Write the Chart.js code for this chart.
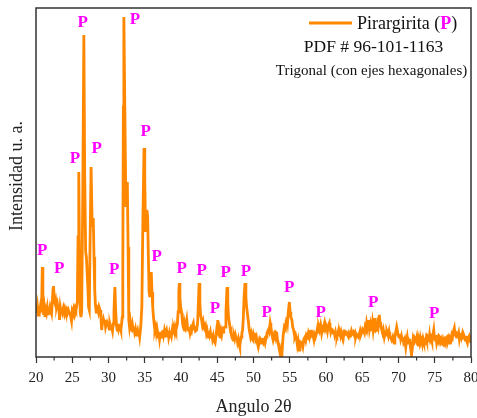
<!DOCTYPE html>
<html>
<head>
<meta charset="utf-8">
<script src="https://cdn.jsdelivr.net/npm/chart.js@4.4.1/dist/chart.umd.min.js"></script>
<style>
html,body{margin:0;padding:0;background:#fff;}
#c{display:block;}
</style>
</head>
<body>
<canvas id="c" width="477" height="418"></canvas>
<script>
// ---- data (2θ in degrees, intensity in arbitrary units) ----
const twoTheta = [
20.0,20.1,20.2,20.3,20.4,20.5,20.6,20.7,20.8,20.87,20.95,21.05,21.15,21.24,21.35,21.45,21.55,21.65,21.75,21.85,21.95,
22.05,22.15,22.25,22.35,22.42,22.5,22.6,22.7,22.76,22.85,22.95,23.05,23.15,23.25,23.35,23.45,23.55,23.65,23.77,23.9,
24.0,24.1,24.2,24.3,24.46,24.6,24.75,24.9,25.0,25.1,25.2,25.3,25.4,25.5,25.6,25.7,25.8,25.9,26.0,26.1,26.2,26.3,26.45,
26.6,26.72,26.85,26.95,27.05,27.15,27.25,27.35,27.45,27.6,27.75,27.9,28.0,28.1,28.2,28.3,28.4,28.5,28.6,28.7,28.83,28.95,
29.06,29.15,29.3,29.4,29.5,29.6,29.7,29.8,29.97,30.1,30.2,30.3,30.44,30.55,30.65,30.75,30.88,31.0,31.1,31.2,31.3,31.4,
31.5,31.6,31.7,31.8,31.9,31.97,32.05,32.12,32.25,32.4,32.5,32.6,32.7,32.8,32.9,33.0,33.1,33.2,33.3,33.4,33.5,33.6,33.7,
33.8,33.9,34.0,34.1,34.2,34.3,34.45,34.6,34.75,34.9,35.0,35.1,35.2,35.3,35.4,35.5,35.6,35.7,35.8,35.9,36.0,36.1,36.2,
36.3,36.4,36.5,36.6,36.7,36.87,36.95,37.05,37.15,37.3,37.4,37.5,37.6,37.7,37.8,37.9,38.0,38.1,38.2,38.3,38.4,38.5,38.6,
38.7,38.8,38.9,39.0,39.1,39.2,39.3,39.4,39.5,39.6,39.7,39.77,39.85,39.95,40.1,40.2,40.3,40.46,40.55,40.65,40.8,40.9,41.0,
41.1,41.24,41.35,41.45,41.55,41.7,41.8,41.9,42.0,42.16,42.3,42.4,42.5,42.6,42.7,42.85,42.95,43.05,43.15,43.3,43.4,43.5,
43.6,43.77,43.85,43.95,44.05,44.15,44.23,44.35,44.45,44.55,44.7,44.85,45.0,45.06,45.15,45.25,45.4,45.5,45.6,45.7,45.8,
45.9,46.07,46.2,46.35,46.45,46.55,46.65,46.76,46.85,46.95,47.05,47.2,47.3,47.4,47.5,47.6,47.7,47.8,47.9,48.0,48.1,48.2,
48.3,48.4,48.5,48.6,48.7,48.83,48.95,49.05,49.15,49.3,49.4,49.5,49.6,49.7,49.8,49.9,50.0,50.1,50.2,50.3,50.4,50.5,50.66,
50.8,50.9,51.0,51.1,51.2,51.3,51.4,51.5,51.6,51.75,51.85,52.04,52.15,52.3,52.4,52.55,52.7,52.85,52.95,53.05,53.2,53.3,
53.4,53.5,53.66,53.8,53.9,54.0,54.1,54.25,54.4,54.5,54.6,54.7,54.8,54.95,55.05,55.15,55.3,55.4,55.5,55.6,55.7,55.8,55.96,
56.05,56.15,56.3,56.4,56.5,56.65,56.8,56.95,57.1,57.2,57.3,57.45,57.56,57.7,57.8,57.9,58.0,58.15,58.34,58.45,58.55,58.7,
58.8,58.9,59.0,59.1,59.25,59.4,59.5,59.6,59.7,59.8,59.9,60.0,60.1,60.2,60.3,60.46,60.55,60.65,60.75,60.9,61.0,61.1,61.2,
61.3,61.4,61.5,61.6,61.7,61.8,61.9,62.0,62.1,62.2,62.3,62.4,62.5,62.6,62.7,62.85,62.95,63.1,63.2,63.35,63.5,63.6,63.77,
63.9,64.0,64.1,64.2,64.3,64.46,64.6,64.7,64.8,64.95,65.05,65.15,65.3,65.4,65.5,65.6,65.7,65.8,65.9,66.0,66.1,66.2,66.3,
66.4,66.5,66.66,66.75,66.85,67.0,67.1,67.2,67.35,67.45,67.55,67.7,67.8,67.9,68.04,68.15,68.3,68.4,68.5,68.6,68.7,68.8,
68.95,69.06,69.2,69.3,69.4,69.5,69.6,69.75,69.85,69.95,70.07,70.2,70.3,70.4,70.5,70.6,70.7,70.85,71.0,71.1,71.2,71.3,
71.45,71.55,71.65,71.8,71.9,72.0,72.1,72.2,72.3,72.4,72.5,72.6,72.7,72.8,72.9,73.0,73.1,73.2,73.3,73.4,73.5,73.66,73.8,
73.9,74.0,74.1,74.2,74.3,74.4,74.5,74.6,74.75,74.86,74.95,75.05,75.15,75.27,75.4,75.5,75.6,75.7,75.8,75.95,76.05,76.2,
76.3,76.4,76.5,76.65,76.75,76.85,77.0,77.1,77.24,77.35,77.45,77.55,77.7,77.8,77.9,78.0,78.16,78.3,78.4,78.5,78.6,78.7,
78.8,78.9,79.0,79.1,79.2,79.3,79.4,79.5,79.6,79.75,79.85,80.0
];
const intensity = [
49,44,50,42,47,45,50,46,60,90,55,42,48,40,47,44,49,42,46,45,50,
47,44,55,68,71,60,55,52,55,50,53,48,52,37,50,46,49,45,49,44,
48,45,47,43,47,44,42,36,46,44,48,45,49,47,50,55,120,185,100,45,40,45,160,
322,180,105,100,85,70,50,47,110,190,130,139,100,67,52,45,52,48,45,50,47,40,
27,33,38,35,37,30,33,35,32,28,33,30,30,26,33,45,70,45,32,27,33,28,
31,30,27,33,40,80,250,340,250,150,170,175,110,37,30,35,28,27,32,27,30,25,28,
22,25,27,22,25,20,30,50,140,209,180,125,140,147,140,100,65,60,70,85,65,50,40,
33,27,30,24,28,20,25,18,23,24,20,27,22,26,21,25,27,22,26,20,24,20,26,
22,27,24,28,25,30,27,30,33,45,65,74,60,50,44,35,30,27,33,30,37,30,27,
30,24,28,26,31,34,28,31,26,27,35,55,74,55,42,37,32,35,29,27,30,24,
27,20,26,22,25,20,24,18,21,16,14,22,32,37,28,22,20,25,22,27,25,
29,30,45,70,55,40,35,30,25,22,19,17,21,18,22,19,20,15,18,13,10,16,
20,24,27,40,60,74,60,50,44,35,28,24,20,23,18,17,22,19,24,18,20,15,10,
16,14,18,17,14,19,15,17,14,20,24,27,25,34,30,22,17,22,20,25,24,18,
14,10,4,8,0,12,22,30,28,36,40,35,45,55,45,40,37,30,28,24,20,22,17,
12,16,7,10,15,14,10,18,20,17,22,20,24,20,25,27,22,24,17,22,20,24,
28,25,30,27,32,24,28,26,31,34,29,32,30,26,31,34,29,25,28,27,24,26,22,
25,21,20,23,26,22,24,21,25,22,23,20,26,27,23,24,22,20,24,22,26,23,25,
22,24,20,23,22,20,23,26,22,25,28,27,24,30,28,34,30,35,37,28,32,26,30,
35,28,39,30,26,27,33,30,42,35,32,27,24,27,20,24,22,26,24,21,25,20,
19,17,20,16,14,20,24,30,26,22,20,23,18,21,17,20,15,18,10,16,20,14,
14,18,10,2,8,16,12,20,19,14,18,13,12,17,14,19,15,17,13,18,15,14,19,
16,21,20,15,22,17,19,16,22,27,20,17,22,14,18,16,21,20,15,18,13,12,
17,15,19,20,15,18,14,19,17,22,20,25,29,22,26,20,20,24,18,22,24,20,
23,19,22,20,17,21,16,14,19,21,17,14
];
// peak marker "P" positions (2θ, intensity)
const peakLabelX = [20.87,23.21,25.38,26.44,28.37,30.8,33.66,35.13,36.65,40.1,42.86,44.69,46.17,48.97,51.82,54.94,59.27,66.52,74.94];
const peakLabelY = [106,88,198,334,208,87,337,225,100,88,86,48,84,85,44,69,44,54,43];
// axis ticks
const xMin = 20, xMax = 80, xMajorStep = 5, xMinorStep = 2.5;

const SERIF = "'Liberation Serif','Times New Roman',serif";
const LINE_COLOR = '#ff8800';
const MAGENTA = '#ff00ff';

const points = twoTheta.map((x, i) => ({x: x, y: intensity[i]}));

const overlay = {
  id: 'overlay',
  afterDatasetsDraw(chart) {
    const ctx = chart.ctx;
    const xs = chart.scales.x, ys = chart.scales.y;
    const ca = chart.chartArea;
    ctx.save();
    // P markers
    ctx.fillStyle = MAGENTA;
    ctx.font = 'bold 17px ' + SERIF;
    ctx.textAlign = 'center';
    ctx.textBaseline = 'middle';
    for (let i = 0; i < peakLabelX.length; i++) {
      ctx.fillText('P', xs.getPixelForValue(peakLabelX[i]), ys.getPixelForValue(peakLabelY[i]));
    }
    // legend
    ctx.strokeStyle = LINE_COLOR;
    ctx.lineWidth = 2.8;
    ctx.beginPath();
    ctx.moveTo(309, 23); ctx.lineTo(352, 23);
    ctx.stroke();
    ctx.textAlign = 'left';
    ctx.font = '18px ' + SERIF;
    ctx.fillStyle = '#111';
    let tx = 357;
    const t1 = 'Pirargirita (';
    ctx.fillText(t1, tx, 24); tx += ctx.measureText(t1).width;
    ctx.font = 'bold 18px ' + SERIF;
    ctx.fillStyle = MAGENTA;
    ctx.fillText('P', tx, 24); tx += ctx.measureText('P').width;
    ctx.font = '18px ' + SERIF;
    ctx.fillStyle = '#111';
    ctx.fillText(')', tx, 24);
    ctx.textAlign = 'center';
    ctx.font = '17.5px ' + SERIF;
    ctx.fillText('PDF # 96-101-1163', 373.5, 47);
    ctx.font = '15px ' + SERIF;
    ctx.fillText('Trigonal (con ejes hexagonales)', 371.5, 71);
    // frame
    ctx.strokeStyle = '#333';
    ctx.lineWidth = 1.5;
    ctx.strokeRect(ca.left, ca.top, ca.right - ca.left, ca.bottom - ca.top);
    // minor ticks
    ctx.lineWidth = 1.2;
    ctx.beginPath();
    for (let v = xMin + xMinorStep; v < xMax; v += xMajorStep) {
      const px = xs.getPixelForValue(v);
      ctx.moveTo(px, ca.bottom); ctx.lineTo(px, ca.bottom + 3.5);
    }
    ctx.stroke();
    // y title
    ctx.translate(17, 176);
    ctx.rotate(-Math.PI / 2);
    ctx.font = '18px ' + SERIF;
    ctx.fillStyle = '#222';
    ctx.textAlign = 'center';
    ctx.textBaseline = 'middle';
    ctx.fillText('Intensidad u. a.', 0, 0);
    ctx.restore();
  }
};

new Chart(document.getElementById('c'), {
  type: 'line',
  data: {
    datasets: [{
      data: points,
      borderColor: LINE_COLOR,
      borderWidth: 2.8,
      pointRadius: 0,
      tension: 0,
      fill: false
    }]
  },
  options: {
    responsive: false,
    animation: false,
    devicePixelRatio: 1,
    layout: {padding: {top: 8, right: 6, left: 0, bottom: 0}},
    plugins: {legend: {display: false}, tooltip: {enabled: false}},
    scales: {
      x: {
        type: 'linear',
        min: xMin, max: xMax,
        afterFit(s) { s.height = 61; s.paddingLeft = 0; s.paddingRight = 0; },
        border: {display: false},
        grid: {
          display: true,
          drawOnChartArea: false,
          drawTicks: true,
          tickLength: 6,
          tickWidth: 1.2,
          tickColor: (c) => (c.tick && Math.abs(c.tick.value % xMajorStep) < 1e-6) ? '#333' : 'rgba(0,0,0,0)'
        },
        ticks: {
          stepSize: xMajorStep,
          autoSkip: false,
          maxRotation: 0,
          padding: 6,
          color: '#222',
          font: {family: SERIF, size: 15},
          callback: (v) => String(v)
        },
        title: {
          display: true,
          text: 'Angulo 2θ',
          color: '#222',
          font: {family: SERIF, size: 18},
          padding: {top: 0, bottom: 0}
        }
      },
      y: {
        min: 0, max: 349,
        afterFit(s) { s.width = 36; s.paddingTop = 0; s.paddingBottom = 0; },
        border: {display: false},
        grid: {display: false, drawTicks: false},
        ticks: {display: false}
      }
    }
  },
  plugins: [overlay]
});
</script>
</body>
</html>
